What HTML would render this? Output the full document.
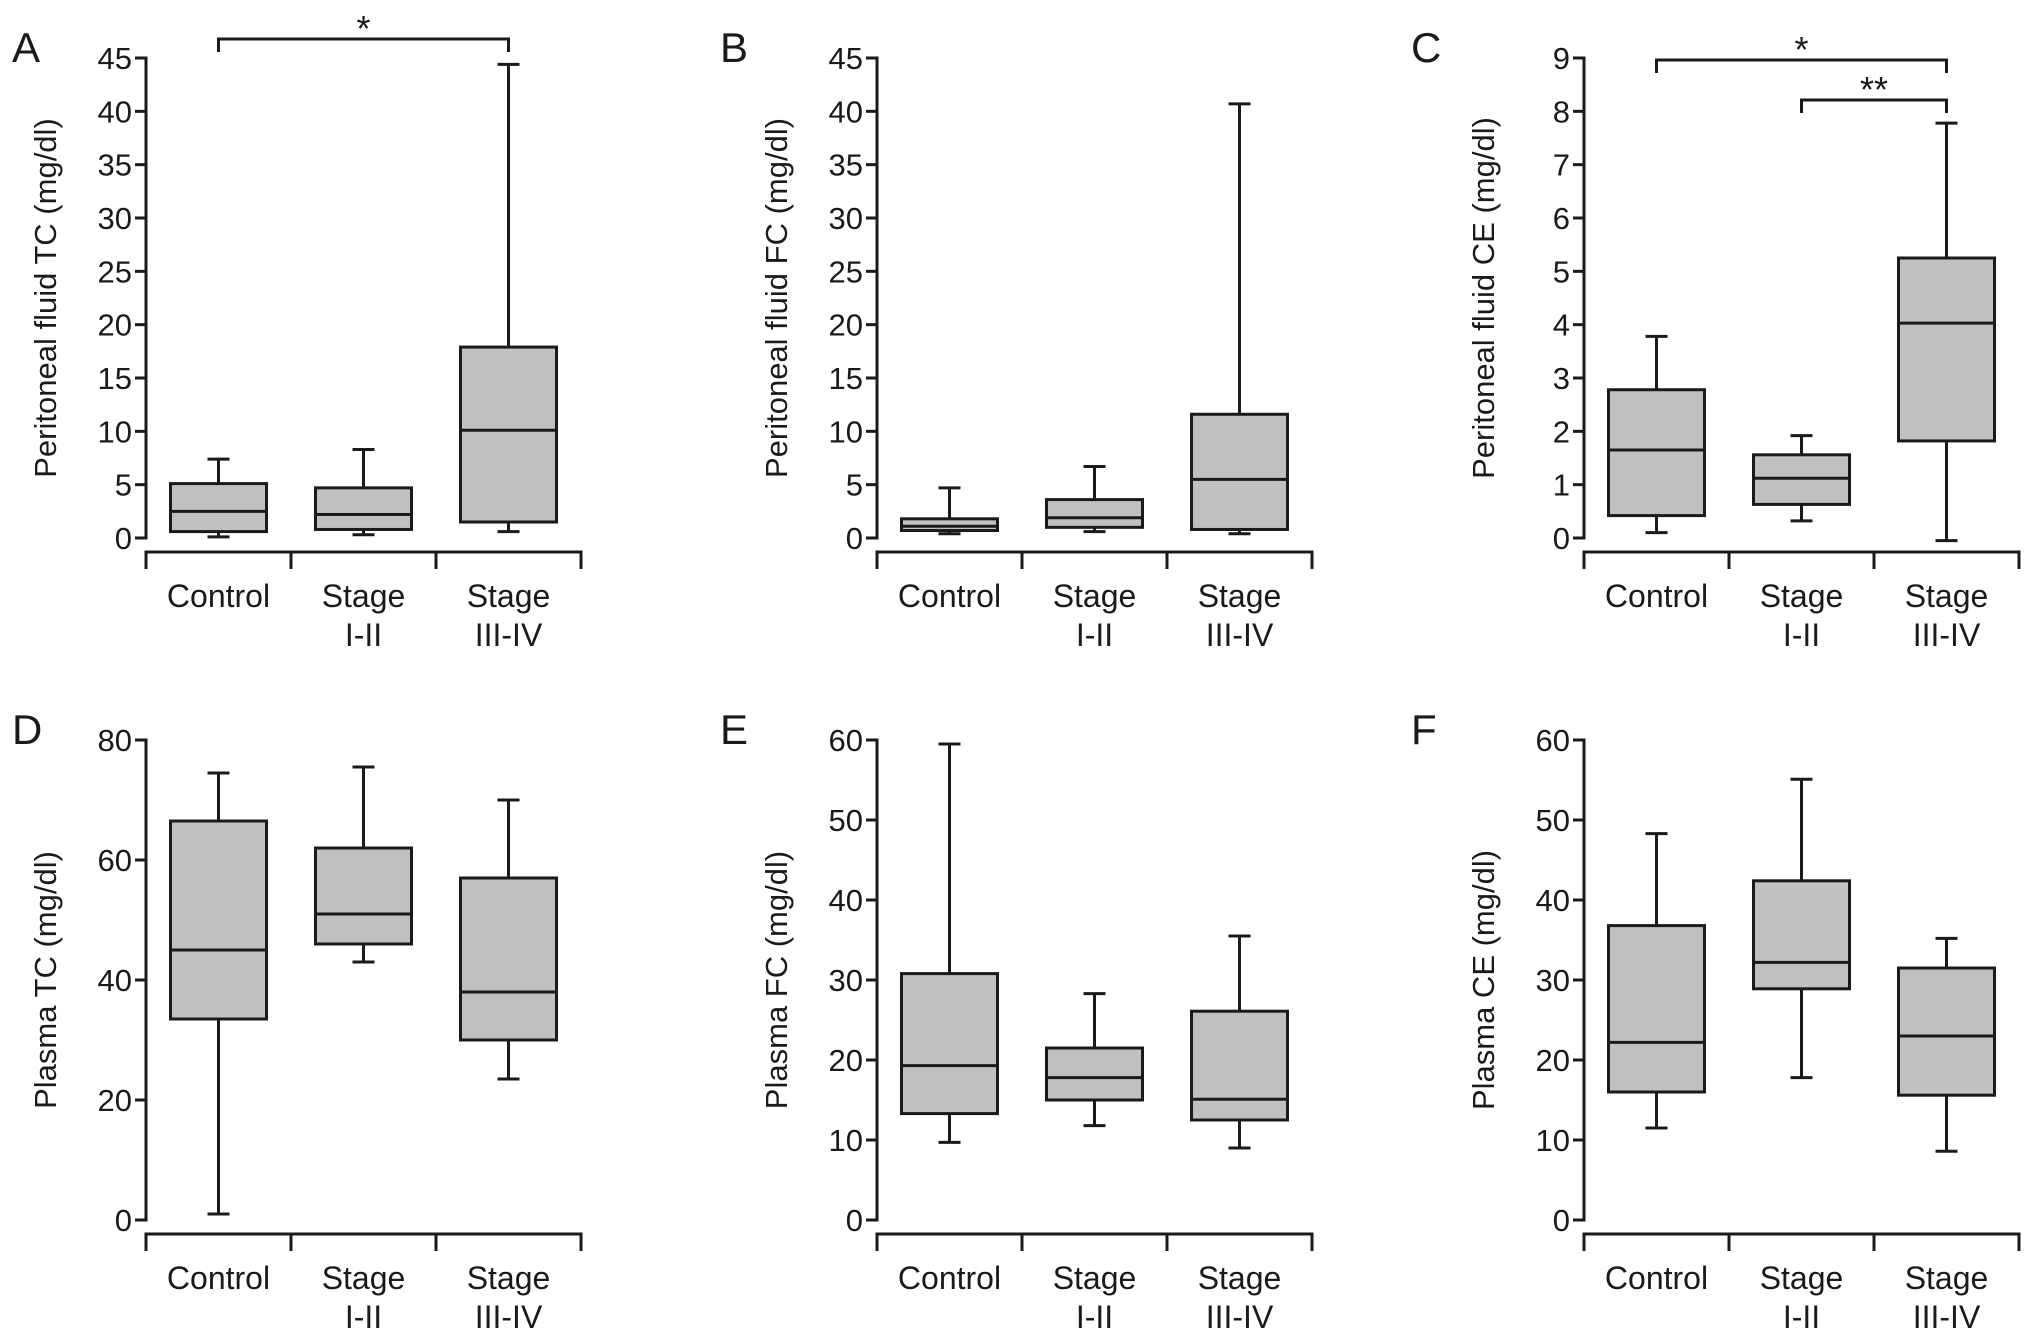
<!DOCTYPE html>
<html><head><meta charset="utf-8">
<style>
html,body{margin:0;padding:0;background:#fff;}
svg{display:block;font-family:"Liberation Sans",Arial,sans-serif;}
</style></head>
<body>
<svg id="fig" width="2032" height="1337" viewBox="0 0 2032 1337" xmlns="http://www.w3.org/2000/svg"></svg>
<script>
const categories = ["Control", "Stage|I-II", "Stage|III-IV"];
// each group: [whiskerLow, Q1, median, Q3, whiskerHigh]
const dataA = [[0.1,0.6,2.5,5.1,7.4],[0.3,0.8,2.2,4.7,8.3],[0.6,1.5,10.1,17.9,44.4]];
const dataB = [[0.4,0.7,1.1,1.8,4.7],[0.6,1.0,1.9,3.6,6.7],[0.4,0.8,5.5,11.6,40.7]];
const dataC = [[0.1,0.42,1.65,2.78,3.78],[0.32,0.63,1.12,1.56,1.92],[-0.05,1.82,4.03,5.25,7.78]];
const dataD = [[1,33.5,45,66.5,74.5],[43,46,51,62,75.5],[23.5,30,38,57,70]];
const dataE = [[9.7,13.3,19.3,30.8,59.5],[11.8,15,17.8,21.5,28.3],[9,12.5,15.1,26.1,35.5]];
const dataF = [[11.5,16,22.2,36.8,48.3],[17.8,28.9,32.2,42.4,55.1],[8.6,15.6,23,31.5,35.2]];
const ticksA = [0,5,10,15,20,25,30,35,40,45];
const ticksC = [0,1,2,3,4,5,6,7,8,9];
const ticksD = [0,20,40,60,80];
const ticksEF = [0,10,20,30,40,50,60];
// significance brackets: [fromCategory, toCategory, label]
const sigA = [[0,2,"*"]];
const sigC = [[0,2,"*"],[1,2,"**"]];

const NS = "http://www.w3.org/2000/svg";
const svg = document.getElementById("fig");
const C = "#1a1a1a";
function el(tag, attrs, parent){
  const e = document.createElementNS(NS, tag);
  for (const k in attrs) e.setAttribute(k, attrs[k]);
  (parent||svg).appendChild(e);
  return e;
}

function panel(o){
  const g = el("g", {});
  
  
  const ax = o.ax, yTop = o.yTop, y0 = o.y0;
  const vmax = o.ticks[o.ticks.length-1];
  const ys = v => y0 - (v / vmax) * (y0 - yTop);
  const band = 145;
  const xs = i => ax + band/2 + band*i;

  const L = el("text", {x: o.lx, y: yTop + 4, "font-size": 42, fill: C}, g);
  L.textContent = o.letter;
  
  

  const ya = el("line", {x1: ax, y1: yTop - 1.5, x2: ax, y2: y0 + 1.5, stroke: C, "stroke-width": 3}, g);
  
  
  o.ticks.forEach(t => {
    const tl = el("line", {x1: ax - 11, y1: ys(t), x2: ax, y2: ys(t), stroke: C, "stroke-width": 3}, g);
    
    
    const tx = el("text", {x: ax - 14, y: ys(t) + 11, "font-size": 31, fill: C, "text-anchor": "end"}, g);
    tx.textContent = t;
    
    
  });
  const yt = el("text", {x: 0, y: 0, "font-size": 31, fill: C, "text-anchor": "middle",
    transform: `translate(${ax - 90},${(yTop + y0)/2}) rotate(-90)`}, g);
  yt.textContent = o.ytitle;
  
  

  const xb = y0 + 14;
  const xa = el("path", {d: `M${ax},${xb+17} V${xb} H${ax+band*3} V${xb+17}`, fill: "none", stroke: C, "stroke-width": 3}, g);
  
  
  for (let i = 1; i < 3; i++) {
    const xt = el("line", {x1: ax + band*i, y1: xb, x2: ax + band*i, y2: xb + 17, stroke: C, "stroke-width": 3}, g);
    
    
  }
  categories.forEach((c, i) => {
    const parts = c.split("|");
    parts.forEach((p, j) => {
      const t = el("text", {x: xs(i), y: xb + 55 + j*39, "font-size": 32, fill: C, "text-anchor": "middle"}, g);
      t.textContent = p;
      
      
    });
  });

  o.data.forEach((d, i) => {
    const cx = xs(i), hw = 48, cw = 11;
    const bg = el("g", {}, g);
    
    
    el("line", {x1: cx, y1: ys(d[0]), x2: cx, y2: ys(d[4]), stroke: C, "stroke-width": 3}, bg);
    el("line", {x1: cx - cw, y1: ys(d[0]), x2: cx + cw, y2: ys(d[0]), stroke: C, "stroke-width": 3}, bg);
    el("line", {x1: cx - cw, y1: ys(d[4]), x2: cx + cw, y2: ys(d[4]), stroke: C, "stroke-width": 3}, bg);
    el("rect", {x: cx - hw, y: ys(d[3]), width: hw*2, height: ys(d[1]) - ys(d[3]), fill: "#c0c0c0", stroke: C, "stroke-width": 3}, bg);
    el("line", {x1: cx - hw, y1: ys(d[2]), x2: cx + hw, y2: ys(d[2]), stroke: C, "stroke-width": 3}, bg);
  });

  (o.sig || []).forEach((s, k) => {
    const yb = o.sigY[k];
    const sg = el("g", {}, g);
    
    
    el("path", {d: `M${xs(s[0])},${yb+13} V${yb} H${xs(s[1])} V${yb+13}`, fill: "none", stroke: C, "stroke-width": 3}, sg);
    const st = el("text", {x: (xs(s[0]) + xs(s[1]))/2, y: yb + 2, "font-size": 36, fill: C, "text-anchor": "middle"}, sg);
    st.textContent = s[2];
  });
}

panel({letter:"A", lx:12, ax:146, yTop:58, y0:538, ticks:ticksA, data:dataA, ytitle:"Peritoneal fluid TC (mg/dl)", sig:sigA, sigY:[39]});
panel({letter:"B", lx:720, ax:877, yTop:58, y0:538, ticks:ticksA, data:dataB, ytitle:"Peritoneal fluid FC (mg/dl)"});
panel({letter:"C", lx:1411, ax:1584, yTop:58, y0:538, ticks:ticksC, data:dataC, ytitle:"Peritoneal fluid CE (mg/dl)", sig:sigC, sigY:[60,100]});
panel({letter:"D", lx:12, ax:146, yTop:740, y0:1220, ticks:ticksD, data:dataD, ytitle:"Plasma TC (mg/dl)"});
panel({letter:"E", lx:720, ax:877, yTop:740, y0:1220, ticks:ticksEF, data:dataE, ytitle:"Plasma FC (mg/dl)"});
panel({letter:"F", lx:1411, ax:1584, yTop:740, y0:1220, ticks:ticksEF, data:dataF, ytitle:"Plasma CE (mg/dl)"});
</script>
</body></html>
